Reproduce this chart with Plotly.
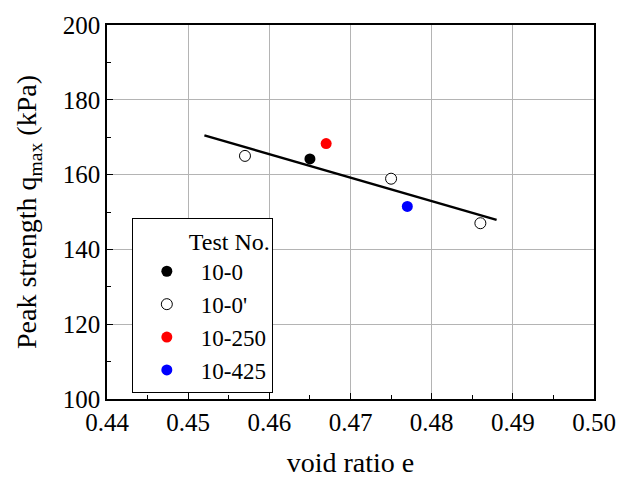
import plotly.graph_objects as go

# Data
e_10_0 = [0.465]
q_10_0 = [164.2]
e_10_0p = [0.457, 0.475, 0.486]
q_10_0p = [165.0, 158.9, 147.0]
e_10_250 = [0.467]
q_10_250 = [168.3]
e_10_425 = [0.477]
q_10_425 = [151.5]
fit_e = [0.452, 0.488]
fit_q = [170.5, 147.9]

FONT = "Times New Roman"

fig = go.Figure()
fig.add_trace(go.Scatter(x=fit_e, y=fit_q, mode="lines",
                         line=dict(color="black", width=2.5), showlegend=False))
fig.add_trace(go.Scatter(x=e_10_0, y=q_10_0, mode="markers", name="10-0",
                         marker=dict(size=11, color="black")))
fig.add_trace(go.Scatter(x=e_10_0p, y=q_10_0p, mode="markers", name="10-0'",
                         marker=dict(size=11, color="white", line=dict(color="black", width=1))))
fig.add_trace(go.Scatter(x=e_10_250, y=q_10_250, mode="markers", name="10-250",
                         marker=dict(size=11, color="red")))
fig.add_trace(go.Scatter(x=e_10_425, y=q_10_425, mode="markers", name="10-425",
                         marker=dict(size=11, color="blue")))

axis_common = dict(
    showline=True, linecolor="black", linewidth=1.5, mirror=True,
    showgrid=True, gridcolor="#b4b4b4", gridwidth=1,
    ticks="inside", ticklen=6, tickcolor="black", tickwidth=1,
    zeroline=False, automargin=False,
    tickfont=dict(family=FONT, size=25, color="black"),
)

fig.update_xaxes(range=[0.44, 0.50], dtick=0.01, tickformat=".2f",
                 minor=dict(ticks="inside", ticklen=4, tickcolor="black", dtick=0.005, showgrid=False),
                 title=dict(text="void ratio e", font=dict(family=FONT, size=28, color="black"), standoff=18),
                 **axis_common)
fig.update_yaxes(range=[100, 200], dtick=20,
                 minor=dict(ticks="inside", ticklen=4, tickcolor="black", dtick=10, showgrid=False),
                 title=dict(text="Peak strength q<sub>max</sub> (kPa)", font=dict(family=FONT, size=28, color="black"), standoff=18),
                 **axis_common)

fig.update_layout(
    width=619, height=478,
    margin=dict(l=107, r=25, t=25, b=79),
    plot_bgcolor="white", paper_bgcolor="white",
    font=dict(family=FONT, color="black", size=24),
    legend=dict(
        x=0.051, y=0.485, xanchor="left", yanchor="top",
        bgcolor="white", bordercolor="black", borderwidth=1,
        font=dict(family=FONT, size=23, color="black"),
        title=dict(text="Test No.", side="top right", font=dict(family=FONT, size=24, color="black")),
        itemwidth=58,
        tracegroupgap=0,
    ),
)

fig.write_html("out.html")
